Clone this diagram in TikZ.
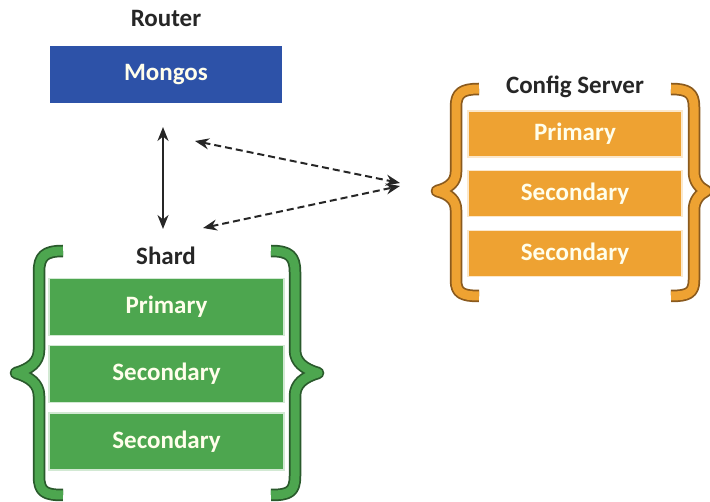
\documentclass[tikz,border=0pt]{standalone}
\usepackage{fontspec}
\setmainfont{Carlito}
\usetikzlibrary{arrows.meta}
\definecolor{mblue}{HTML}{2D52A8}
\definecolor{sgreen}{HTML}{4DA64F}
\definecolor{dgreen}{HTML}{2A5A2C}
\definecolor{corange}{HTML}{EEA232}
\definecolor{dorange}{HTML}{8A5A1E}
\definecolor{ink}{HTML}{262626}
\begin{document}
\begin{tikzpicture}[x=1pt,y=-1pt,
  title/.style={font=\fontsize{25}{28}\selectfont\bfseries, text=ink, inner sep=0pt},
  boxtxt/.style={font=\fontsize{25}{28}\selectfont\bfseries, text=white!92!yellow},
  gbox/.style={boxtxt, fill=sgreen, draw=white!75!sgreen, line width=1.2pt, minimum width=235pt, minimum height=57pt, inner sep=0pt},
  obox/.style={boxtxt, fill=corange, draw=white!75!corange, line width=1.2pt, minimum width=214pt, minimum height=46pt, inner sep=0pt},
  bbox/.style={boxtxt, fill=mblue, minimum width=232pt, minimum height=57pt, inner sep=0pt},
  braceout/.style={line width=12.5pt, line cap=butt, line join=round},
  bracein/.style={line width=9pt, line cap=butt, line join=round},
  conn/.style={ink, line width=2pt, >={Stealth[length=14pt,width=11pt]}, <->},
]
\useasboundingbox (0,0) rectangle (710,502);
% Router
\node[title] (router) at (166,18) {Router};
\node[bbox] (mongos) at (166,74.5) {Mongos};
% Config server
\node[title] (cfg) at (575,87) {Config Server};
\node[obox] (cp) at (575,134) {Primary};
\node[obox] (cs1) at (575,193.5) {Secondary};
\node[obox] (cs2) at (575,253.5) {Secondary};
% Shard
\node[title] (shard) at (166,256) {Shard};
\node[gbox] (sp) at (166.5,307) {Primary};
\node[gbox] (ss1) at (166.5,374) {Secondary};
\node[gbox] (ss2) at (166.5,441.5) {Secondary};
% braces shard
\foreach \st/\col in {braceout/dgreen, bracein/sgreen}{
  \draw[\st, draw=\col] (63,251) .. controls (45,251) and (39,256) .. (39,272) -- (39,350)
     .. controls (39,362) and (30,369) .. (16,373) .. controls (30,377) and (39,384) .. (39,396)
     -- (39,476) .. controls (39,492) and (45,495) .. (63,495);
  \draw[\st, draw=\col] (271,251) .. controls (289,251) and (295,256) .. (295,272) -- (295,350)
     .. controls (295,362) and (304,369) .. (318,373) .. controls (304,377) and (295,384) .. (295,396)
     -- (295,476) .. controls (295,492) and (289,495) .. (271,495);
}
% braces config
\foreach \st/\col in {braceout/dorange, bracein/corange}{
  \draw[\st, draw=\col] (479,89) .. controls (462,89) and (456,93) .. (456,107) -- (456,172)
     .. controls (456,182) and (449,188) .. (437,191) .. controls (449,194) and (456,200) .. (456,210)
     -- (456,280) .. controls (456,293) and (462,296) .. (479,296);
  \draw[\st, draw=\col] (671,89) .. controls (688,89) and (694,93) .. (694,107) -- (694,172)
     .. controls (694,182) and (700,188) .. (706,191) .. controls (700,194) and (694,200) .. (694,210)
     -- (694,280) .. controls (694,293) and (688,296) .. (671,296);
}
% connectors
\coordinate (vtop) at (163,127);
\coordinate (vbot) at (163,229);
\coordinate (dtip1) at (400,183);
\coordinate (dtip2) at (400,186);
\coordinate (dend1) at (195,141);
\coordinate (dend2) at (203,228);
\draw[conn] (vtop) -- (vbot);
\draw[conn, dash pattern=on 7pt off 4pt] (dend1) -- (dtip1);
\draw[conn, dash pattern=on 7pt off 4pt] (dend2) -- (dtip2);
\end{tikzpicture}
\end{document}
